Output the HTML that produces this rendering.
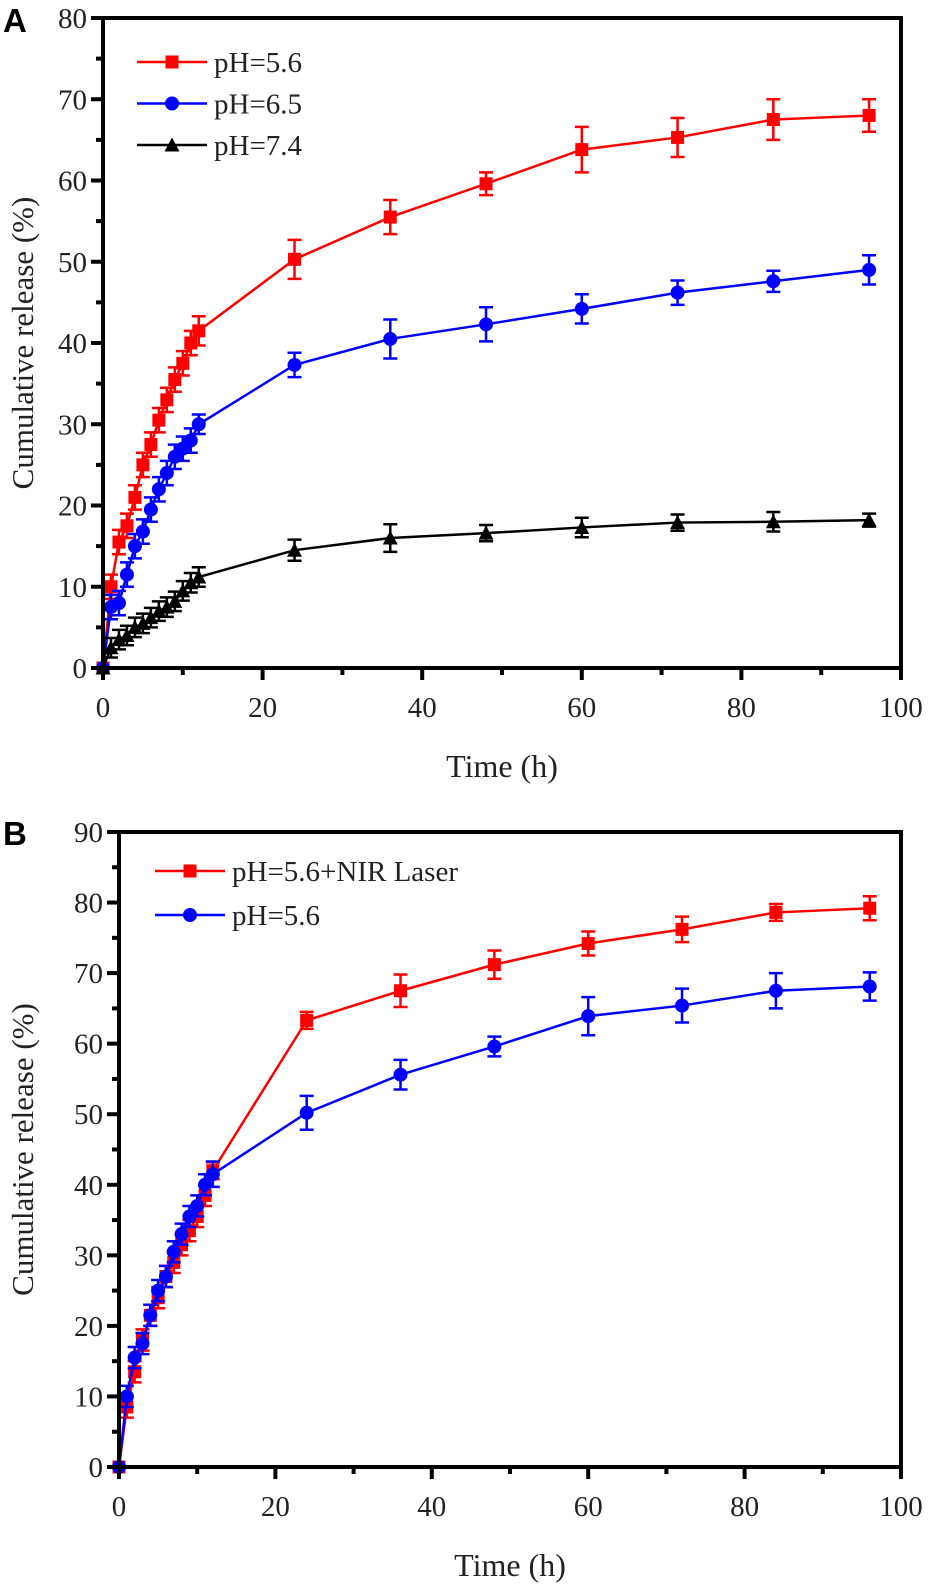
<!DOCTYPE html>
<html><head><meta charset="utf-8"><style>
body{margin:0;background:#fff}
svg text{font-family:"Liberation Serif",serif;fill:#222}
</style></head><body>
<svg id="c" width="931" height="1590" xmlns="http://www.w3.org/2000/svg"></svg>
<script>
const times=[0,1,2,3,4,5,6,7,8,9,10,11,12,24,36,48,60,72,84,96];
const aPH56=[0,10,15.5,17.5,21,25,27.5,30.5,33,35.5,37.5,40,41.5,50.3,55.5,59.6,63.8,65.3,67.5,68];
const aPH65=[0,7.5,8,11.5,15,16.8,19.5,22,24,26,27,28,30,37.3,40.5,42.3,44.2,46.2,47.6,49];
const aPH74=[0,2.5,3.5,4,5,5.5,6.2,7,7.5,8.2,9.5,10.5,11.2,14.5,16,16.6,17.3,17.9,18,18.2];
const aErr56=[0,1.5,1.5,1.5,1.5,1.5,1.5,1.5,1.5,1.5,1.5,1.5,1.8,2.4,2.1,1.4,2.8,2.4,2.5,2];
const aErr65=[0,1.5,1.5,1.5,1.5,1.5,1.5,1.5,1.5,1.5,1.5,1.5,1.2,1.5,2.4,2.1,1.8,1.5,1.3,1.8];
const aErr74=[0,1.2,1.2,1.2,1.2,1.2,1.2,1.2,1.2,1.2,1.2,1.2,1.2,1.3,1.7,1,1.2,1,1.2,0.8];
const bNIR=[0,8.5,13.5,18,21.5,24,27,29,31.5,33.5,35.5,38.5,42,63.3,67.5,71.2,74.2,76.2,78.6,79.2];
const bPH56=[0,10,15.5,17.5,21.5,25,27,30.5,33,35.5,37,40,41.5,50.2,55.6,59.6,63.9,65.4,67.5,68.1];
const bErrNIR=[0,1.5,1.5,1.5,1.5,1.5,1.5,1.5,1.5,1.5,1.5,1.5,1.2,1.2,2.3,2,1.7,1.8,1.2,1.7];
const bErrPH=[0,1.5,1.5,1.5,1.5,1.5,1.5,1.5,1.5,1.5,1.5,1.5,1.8,2.4,2.1,1.4,2.7,2.4,2.5,2];
const xTicks=[0,20,40,60,80,100];
const yTicksA=[0,10,20,30,40,50,60,70,80];
const yTicksB=[0,10,20,30,40,50,60,70,80,90];
const NS="http://www.w3.org/2000/svg";
const svg=document.getElementById('c');
function mk(t,a,p){const e=document.createElementNS(NS,t);for(const k in a)e.setAttribute(k,a[k]);(p||svg).appendChild(e);return e;}
function panel(P){
  const g=mk('g',{});
  
  
  const X=v=>P.x0+(P.x1-P.x0)*v/100, Y=v=>P.y0-(P.y0-P.y1)*v/P.ymax;
  P.series.forEach(s=>{
    const sg=mk('g',{},g);
    
    
    mk('polyline',{points:times.map((t,i)=>X(t)+','+Y(s.v[i])).join(' '),fill:'none',stroke:s.c,'stroke-width':2.5},sg);
    times.forEach((t,i)=>{
      const x=X(t),y=Y(s.v[i]),e=s.e[i];
      if(e>0){const ya=Y(s.v[i]+e),yb=Y(s.v[i]-e);
        mk('path',{d:`M${x},${ya}V${yb}M${x-7},${ya}H${x+7}M${x-7},${yb}H${x+7}`,stroke:s.c,'stroke-width':2.5,fill:'none'},sg);}
      marker(sg,s.m,x,y,s.c,13);
    });
  });
  mk('rect',{x:P.x0,y:P.y1,width:P.x1-P.x0,height:P.y0-P.y1,fill:'none',stroke:'#000','stroke-width':4},g);
  xTicks.forEach((t,i)=>{
    const x=X(t);
    mk('line',{x1:x,x2:x,y1:P.y0,y2:P.y0+12,stroke:'#000','stroke-width':4},g);
    if(i<xTicks.length-1)mk('line',{x1:X(t+10),x2:X(t+10),y1:P.y0,y2:P.y0+7,stroke:'#000','stroke-width':4},g);
    const tx=mk('text',{x:x,y:P.y0+49,'font-size':29,'text-anchor':'middle'},g);tx.textContent=t;
    
  });
  P.yt.forEach((t,i)=>{
    const y=Y(t);
    mk('line',{x1:P.x0-12,x2:P.x0,y1:y,y2:y,stroke:'#000','stroke-width':4},g);
    if(i<P.yt.length-1)mk('line',{x1:P.x0-7,x2:P.x0,y1:Y(t+5),y2:Y(t+5),stroke:'#000','stroke-width':4},g);
    const tx=mk('text',{x:P.x0-16,y:y+10,'font-size':29,'text-anchor':'end'},g);tx.textContent=t;
    
  });
  const xt=mk('text',{x:(P.x0+P.x1)/2,y:P.y0+109,'font-size':32,'text-anchor':'middle'},g);xt.textContent='Time (h)';
  
  const yc=(P.y0+P.y1)/2;
  const yt=mk('text',{x:22,y:yc,'font-size':31,'text-anchor':'middle',transform:`rotate(-90 22 ${yc})`,dy:11},g);yt.textContent='Cumulative release (%)';
  
  const pl=mk('text',{x:3,y:P.labY,'font-size':33,'font-weight':'bold',style:'font-family:"Liberation Sans",sans-serif;fill:#000'},g);pl.textContent=P.label;
  
  P.series.forEach((s,i)=>{
    const lg=mk('g',{},g);
    
    
    const ly=P.legY+i*P.legDy;
    mk('line',{x1:P.legX,x2:P.legX+70,y1:ly,y2:ly,stroke:s.c,'stroke-width':2.5},lg);
    marker(lg,s.m,P.legX+35,ly,s.c,13);
    const t=mk('text',{x:P.legX+77,y:ly+10,'font-size':29},lg);t.textContent=s.label;
  });
}
function marker(p,m,x,y,c,s){
  if(m==='sq')mk('rect',{x:x-s/2,y:y-s/2,width:s,height:s,fill:c},p);
  else if(m==='ci')mk('circle',{cx:x,cy:y,r:s/2+0.5,fill:c},p);
  else mk('path',{d:`M${x},${y-s/2-1}L${x+s/2+1},${y+s/2}L${x-s/2-1},${y+s/2}Z`,fill:c},p);
}
panel({name:'panel-a-chart',x0:103,x1:901,y0:668,y1:18,ymax:80,yt:yTicksA,label:'A',labY:32,legX:137,legY:62,legDy:41.5,
 series:[{name:'series-ph-5-6',label:'pH=5.6',v:aPH56,e:aErr56,c:'#ff0000',m:'sq'},
         {name:'series-ph-6-5',label:'pH=6.5',v:aPH65,e:aErr65,c:'#0000ff',m:'ci'},
         {name:'series-ph-7-4',label:'pH=7.4',v:aPH74,e:aErr74,c:'#000000',m:'tr'}]});
panel({name:'panel-b-chart',x0:119,x1:901,y0:1467,y1:832,ymax:90,yt:yTicksB,label:'B',labY:845,legX:155,legY:871,legDy:44,
 series:[{name:'series-ph-5-6-nir',label:'pH=5.6+NIR Laser',v:bNIR,e:bErrNIR,c:'#ff0000',m:'sq'},
         {name:'series-ph-5-6',label:'pH=5.6',v:bPH56,e:bErrPH,c:'#0000ff',m:'ci'}]});
</script>
</body></html>
